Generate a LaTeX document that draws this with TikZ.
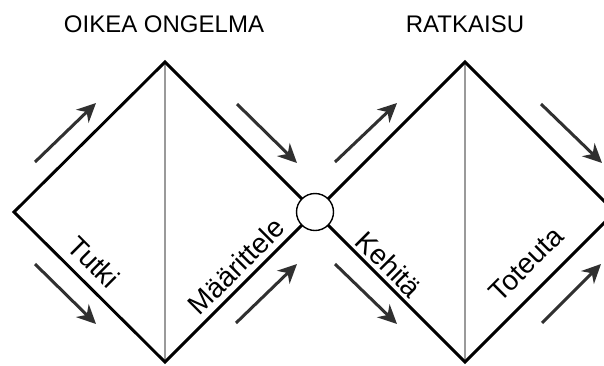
\documentclass[tikz,border=0pt]{standalone}
\usepackage{fontspec}
\setmainfont{Liberation Sans}
\usetikzlibrary{arrows.meta}
\definecolor{flowgray}{HTML}{303030}
\definecolor{axisgray}{HTML}{9A9A9A}
\tikzset{
  edgeline/.style={line width=2.9pt, black, line join=miter},
  midline/.style={line width=1.3pt, axisgray},
  flowarrow/.style={line width=3pt, flowgray, -{Stealth[length=19pt, width=18pt, inset=6pt]}},
  phase/.style={font=\fontsize{28}{32}\selectfont, inner sep=0pt},
  title/.style={font=\fontsize{24}{28}\selectfont, inner sep=0pt},
}
\begin{document}
\begin{tikzpicture}[x=1pt, y=-1pt]
\useasboundingbox (0,0) rectangle (604,365);
\fill[white] (0,0) rectangle (604,365);
% diamond corners
\coordinate (aL) at (14,212);
\coordinate (aT) at (165,62);
\coordinate (aB) at (165,362);
\coordinate (bT) at (465,62);
\coordinate (bB) at (465,362);
\coordinate (bR) at (615,212);
\coordinate (mid) at (315,212);
\begin{scope}
\clip (0,0) rectangle (604,365);
\draw[midline] (aT) -- (aB);
\draw[midline] (bT) -- (bB);
\draw[edgeline] (aL) -- (aT) -- (mid) -- (aB) -- cycle;
\draw[edgeline] (mid) -- (bT) -- (bR) -- (bB) -- cycle;
\end{scope}
\node[circle, draw=black, line width=1.4pt, fill=white, minimum size=37pt, inner sep=0pt] (hub) at (mid) {};
% titles
\node[title] (t1) at (164,24) {OIKEA ONGELMA};
\node[title] (t2) at (465,24) {RATKAISU};
% phase labels
\node[phase, rotate=-45] (l1) at (94,262) {Tutki};
\node[phase, rotate=45] (l2) at (236,266) {Määrittele};
\node[phase, rotate=-45] (l3) at (389,264) {Kehitä};
\node[phase, rotate=45] (l4) at (526,264) {Toteuta};
% flow arrows
\coordinate (a1s) at (35,162); \coordinate (a1e) at (96,103);
\coordinate (a2s) at (237,104); \coordinate (a2e) at (297,163);
\coordinate (a3s) at (35,264); \coordinate (a3e) at (96,324);
\coordinate (a4s) at (236,323); \coordinate (a4e) at (297,264);
\coordinate (b1s) at (335,162); \coordinate (b1e) at (397,103);
\coordinate (b2s) at (541,104); \coordinate (b2e) at (602,163);
\coordinate (b3s) at (335,264); \coordinate (b3e) at (397,324);
\coordinate (b4s) at (542,323); \coordinate (b4e) at (601,264);
\foreach \s/\e in {a1s/a1e,a2s/a2e,a3s/a3e,a4s/a4e,b1s/b1e,b2s/b2e,b3s/b3e,b4s/b4e}
  \draw[flowarrow] (\s) -- (\e);
\end{tikzpicture}
\end{document}
